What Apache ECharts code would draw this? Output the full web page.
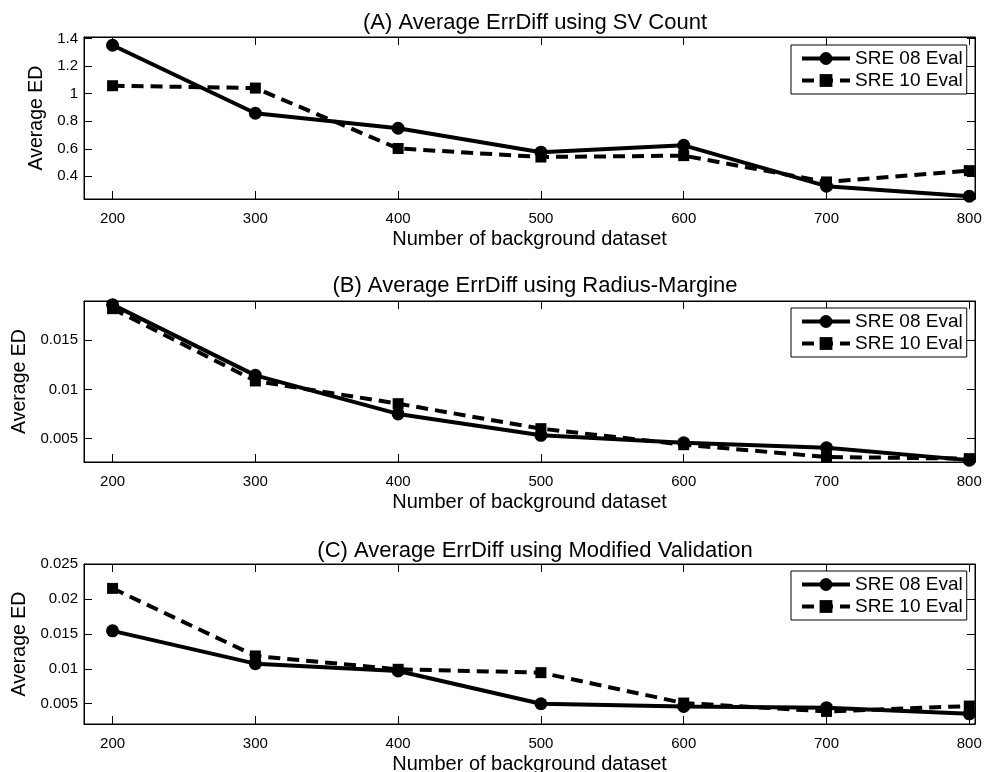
<!DOCTYPE html>
<html>
<head>
<meta charset="utf-8">
<script src="https://cdn.jsdelivr.net/npm/echarts@6/dist/echarts.min.js"></script>
<style>
  * { margin: 0; padding: 0; }
  body { background: #fff; }
</style>
</head>
<body>
<div id="main" style="width: 994px; height: 772px;"></div>
<script>
  // data
  var xValues = [200, 300, 400, 500, 600, 700, 800]
  var xTicks = [200, 300, 400, 500, 600, 700, 800]

  var sre08A = [1.352, 0.858, 0.749, 0.575, 0.625, 0.328, 0.255]
  var sre10A = [1.058, 1.041, 0.602, 0.540, 0.550, 0.359, 0.441]
  var sre08B = [0.01863, 0.01144, 0.00752, 0.00534, 0.00459, 0.00408, 0.00282]
  var sre10B = [0.01822, 0.01087, 0.00856, 0.00602, 0.00439, 0.00314, 0.00297]
  var sre08C = [0.01543, 0.01074, 0.00969, 0.00500, 0.00462, 0.00443, 0.00356]
  var sre10C = [0.02151, 0.01184, 0.00993, 0.00945, 0.00510, 0.00390, 0.00467]

  var ticksA = [0.4, 0.6, 0.8, 1, 1.2, 1.4]
  var ticksB = [0.005, 0.01, 0.015]
  var ticksC = [0.005, 0.01, 0.015, 0.02, 0.025]

  var titles = [
    '(A) Average ErrDiff using SV Count',
    '(B) Average ErrDiff using Radius-Margine',
    '(C) Average ErrDiff using Modified Validation'
  ]
  var names = ['SRE 08 Eval', 'SRE 10 Eval']

  var font = "'Liberation Sans', Arial, Helvetica, sans-serif"

  // panel layout (pixels)
  var panels = [
    {top: 37, height: 162, titleTop: 7, yMin: 0.235, yMax: 1.412, ticks: ticksA, a: sre08A, b: sre10A, nameGap: 36, legendTop: 45},
    {top: 301, height: 161, titleTop: 270, yMin: 0.00263, yMax: 0.0190, ticks: ticksB, a: sre08B, b: sre10B, nameGap: 51, legendTop: 308},
    {top: 564, height: 160, titleTop: 535, yMin: 0.0021, yMax: 0.025, ticks: ticksC, a: sre08C, b: sre10C, nameGap: 52, legendTop: 571}
  ]

  function pairs (ys) {
    return xValues.map(function (x, i) { return [x, ys[i]] })
  }

  var option = {
    animation: false,
    textStyle: {fontFamily: font, color: '#000'},
    title: [],
    legend: [],
    grid: [],
    xAxis: [],
    yAxis: [],
    series: []
  }

  panels.forEach(function (p, k) {
    option.title.push({
      text: titles[k],
      left: 530,
      textAlign: 'center',
      top: p.titleTop,
      textStyle: {fontFamily: font, fontSize: 22, fontWeight: 'normal', color: '#000'}
    })
    option.legend.push({
      data: names,
      orient: 'vertical',
      left: 791,
      top: p.legendTop,
      backgroundColor: '#fff',
      borderColor: '#000',
      borderWidth: 1,
      padding: [4, 4, 4, 9],
      itemGap: 3,
      itemWidth: 48,
      itemHeight: 16,
      selectedMode: false,
      lineStyle: {width: 4},
      textStyle: {fontFamily: font, fontSize: 19, color: '#000'}
    })
    option.grid.push({
      left: 84, right: 19, top: p.top, height: p.height,
      outerBoundsMode: 'none',
      show: true, borderColor: '#000', borderWidth: 1, backgroundColor: '#fff'
    })
    var tickStyle = {show: true, inside: true, length: 8, lineStyle: {color: '#000', width: 1}}
    // bottom axis
    option.xAxis.push({
      type: 'value', gridIndex: k, min: 180, max: 804, position: 'bottom',
      name: 'Number of background dataset', nameLocation: 'middle', nameGap: 30,
      nameTextStyle: {fontFamily: font, fontSize: 20, color: '#000'},
      axisLine: {show: true, lineStyle: {color: '#000', width: 1}},
      axisTick: Object.assign({customValues: xTicks}, tickStyle),
      axisLabel: {customValues: xTicks, fontFamily: font, fontSize: 15, color: '#000', margin: 12},
      splitLine: {show: false}
    })
    // top mirror axis
    option.xAxis.push({
      type: 'value', gridIndex: k, min: 180, max: 804, position: 'top',
      axisLine: {show: true, lineStyle: {color: '#000', width: 1}},
      axisTick: Object.assign({customValues: xTicks}, tickStyle),
      axisLabel: {show: false},
      splitLine: {show: false}
    })
    option.yAxis.push({
      type: 'value', gridIndex: k, min: p.yMin, max: p.yMax, position: 'left',
      name: 'Average ED', nameLocation: 'middle', nameGap: p.nameGap,
      nameTextStyle: {fontFamily: font, fontSize: 19.5, color: '#000'},
      axisLine: {show: true, lineStyle: {color: '#000', width: 1}},
      axisTick: Object.assign({customValues: p.ticks}, tickStyle),
      axisLabel: {customValues: p.ticks, fontFamily: font, fontSize: 15, color: '#000', margin: 6},
      splitLine: {show: false}
    })
    option.yAxis.push({
      type: 'value', gridIndex: k, min: p.yMin, max: p.yMax, position: 'right',
      axisLine: {show: true, lineStyle: {color: '#000', width: 1}},
      axisTick: Object.assign({customValues: p.ticks}, tickStyle),
      axisLabel: {show: false},
      splitLine: {show: false}
    })
    option.series.push({
      name: names[0], type: 'line', xAxisIndex: 2 * k, yAxisIndex: 2 * k,
      data: pairs(p.a),
      symbol: 'circle', symbolSize: 13,
      lineStyle: {color: '#000', width: 4, type: 'solid'},
      itemStyle: {color: '#000'},
      z: 3
    })
    option.series.push({
      name: names[1], type: 'line', xAxisIndex: 2 * k, yAxisIndex: 2 * k,
      data: pairs(p.b),
      symbol: 'rect', symbolSize: 11,
      lineStyle: {color: '#000', width: 4, type: [12, 7]},
      itemStyle: {color: '#000'},
      z: 2
    })
  })

  var chart = echarts.init(document.getElementById('main'))
  chart.setOption(option)
</script>
</body>
</html>
